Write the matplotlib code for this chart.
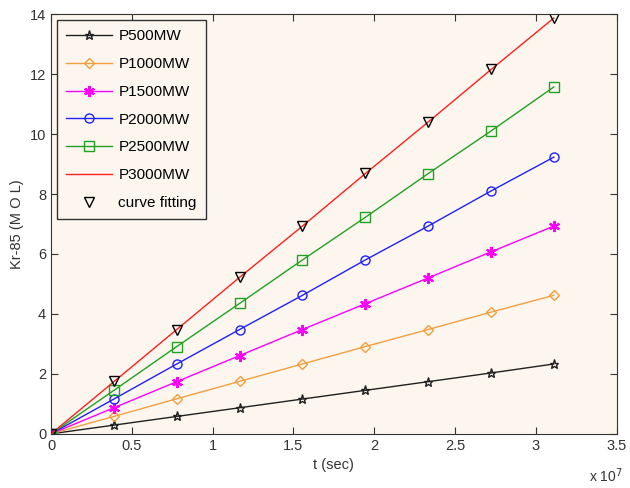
import matplotlib.pyplot as plt
from matplotlib.ticker import FuncFormatter

# time points (sec)
t = [0, 3.888e6, 7.776e6, 1.1664e7, 1.5552e7, 1.944e7, 2.3328e7, 2.7216e7, 3.1104e7]

# Kr-85 amount (MOL)
p500 = [0, 0.29, 0.58, 0.87, 1.16, 1.45, 1.74, 2.03, 2.33]
p1000 = [0, 0.58, 1.17, 1.75, 2.33, 2.91, 3.48, 4.06, 4.62]
p1500 = [0, 0.87, 1.74, 2.61, 3.48, 4.34, 5.2, 6.07, 6.93]
p2000 = [0, 1.16, 2.33, 3.48, 4.62, 5.8, 6.93, 8.1, 9.23]
p2500 = [0, 1.45, 2.91, 4.35, 5.8, 7.22, 8.68, 10.1, 11.57]
p3000 = [0, 1.74, 3.48, 5.22, 6.93, 8.68, 10.4, 12.15, 13.87]
fit = [0, 1.76, 3.47, 5.23, 6.92, 8.7, 10.4, 12.17, 13.87]

plt.rcParams['font.family'] = ['Liberation Sans', 'DejaVu Sans']
plt.rcParams['font.size'] = 10

fig = plt.figure(figsize=(6.3, 4.88), dpi=100)
ax = fig.add_axes([0.081, 0.111, 0.898, 0.860])
ax.set_facecolor('#fdf6ee')

ax.plot(t, p500, color='#202020', lw=1, marker='*', ms=6.5, mfc='none', label='P500MW')
ax.plot(t, p1000, color='#f0a040', lw=1, marker='D', ms=5.5, mfc='none', label='P1000MW')
ax.plot(t, p1500, color='#ff00ff', lw=1, marker=(6, 2, 0), ms=8, mew=1.5, label='P1500MW')
ax.plot(t, p2000, color='#2020ff', lw=1, marker='o', ms=6.5, mfc='none', label='P2000MW')
ax.plot(t, p2500, color='#22a022', lw=1, marker='s', ms=6.5, mfc='none', label='P2500MW')
ax.plot(t, p3000, color='#ff2020', lw=1, label='P3000MW')
ax.plot(t, fit, ls='none', color='black', marker='v', ms=7, mfc='none', label='curve fitting')

ax.set_xlim(0, 3.5e7)
ax.set_ylim(0, 14)
ax.set_xticks([i * 0.5e7 for i in range(8)])
ax.set_yticks(range(0, 15, 2))
ax.xaxis.set_major_formatter(FuncFormatter(lambda v, p: '%g' % (v / 1e7)))
ax.tick_params(direction='in', top=True, right=True, length=5, colors='#333333', labelsize=10.5)
for s in ax.spines.values():
    s.set_color('#333333')

ax.set_xlabel('t (sec)', color='#333333', fontsize=10.5)
ax.set_ylabel('Kr-85 (M O L)', color='#333333', fontsize=10.5)
fig.text(0.935, 0.012, 'x 10$^7$', color='#333333', fontsize=10)

leg = ax.legend(loc='upper left', fontsize=11, fancybox=False, edgecolor='#333333',
                facecolor='#fdf6ee', framealpha=1, borderaxespad=0.4, borderpad=0.6,
                labelspacing=0.9, handlelength=3, handletextpad=0.4)
leg.get_frame().set_linewidth(1)

fig.savefig('out.png', dpi=100)
